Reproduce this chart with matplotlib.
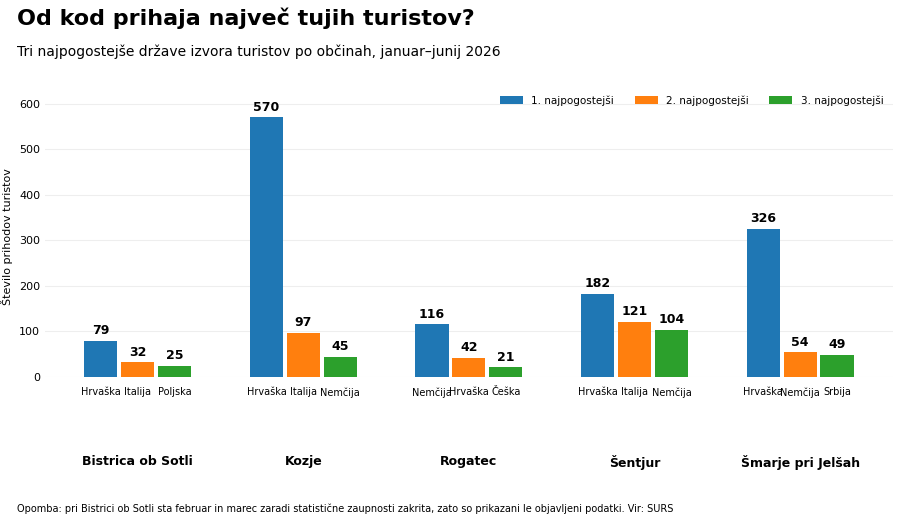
import matplotlib
matplotlib.use("Agg")
import matplotlib.pyplot as plt
import numpy as np

municipalities = ["Bistrica ob Sotli", "Kozje", "Rogatec", "Šentjur", "Šmarje pri Jelšah"]
rank1_country = ["Hrvaška", "Hrvaška", "Nemčija", "Hrvaška", "Hrvaška"]
rank2_country = ["Italija", "Italija", "Hrvaška", "Italija", "Nemčija"]
rank3_country = ["Poljska", "Nemčija", "Češka", "Nemčija", "Srbija"]
rank1_values = [79, 570, 116, 182, 326]
rank2_values = [32, 97, 42, 121, 54]
rank3_values = [25, 45, 21, 104, 49]
series_names = ["1. najpogostejši", "2. najpogostejši", "3. najpogostejši"]
colors = ["#1f77b4", "#ff7f0e", "#2ca02c"]

fig = plt.figure(figsize=(9, 5.2), dpi=100)
ax = fig.add_axes([0.05, 0.275, 0.942, 0.5385])
x = np.arange(len(municipalities))
w = 0.2
off = 0.223
for i, (vals, names) in enumerate([(rank1_values, rank1_country), (rank2_values, rank2_country), (rank3_values, rank3_country)]):
    xs = x + (i - 1) * off
    ax.bar(xs, vals, width=w, color=colors[i], label=series_names[i], zorder=3)
    for xi, v, n in zip(xs, vals, names):
        ax.text(xi, v + 8, str(v), ha="center", va="bottom", fontsize=9, fontweight="bold")
        ax.text(xi, -22, n, ha="center", va="top", fontsize=7)
for xi, m in zip(x, municipalities):
    ax.text(xi, -172, m, ha="center", va="top", fontsize=9, fontweight="bold")

ax.set_xlim(-0.56, 4.56)
ax.set_ylim(0, 615)
ax.set_yticks([0, 100, 200, 300, 400, 500, 600])
ax.tick_params(axis="y", labelsize=8, length=0)
ax.set_xticks([])
ax.yaxis.grid(True, color="#eeeeee", linewidth=0.8, zorder=0)
for s in ax.spines.values():
    s.set_visible(False)
ax.set_ylabel("Število prihodov turistov", fontsize=8)
ax.legend(loc="upper right", ncol=3, frameon=False, fontsize=7.5, bbox_to_anchor=(1.0, 1.04),
          handlelength=2.2, handleheight=0.7, columnspacing=2)

fig.text(0.019, 0.985, "Od kod prihaja največ tujih turistov?", fontsize=16, fontweight="bold", va="top")
fig.text(0.019, 0.915, "Tri najpogostejše države izvora turistov po občinah, januar–junij 2026", fontsize=10, va="top")
fig.text(0.019, 0.012, "Opomba: pri Bistrici ob Sotli sta februar in marec zaradi statistične zaupnosti zakrita, zato so prikazani le objavljeni podatki. Vir: SURS", fontsize=7, va="bottom")
fig.savefig("out.png", dpi=100)
